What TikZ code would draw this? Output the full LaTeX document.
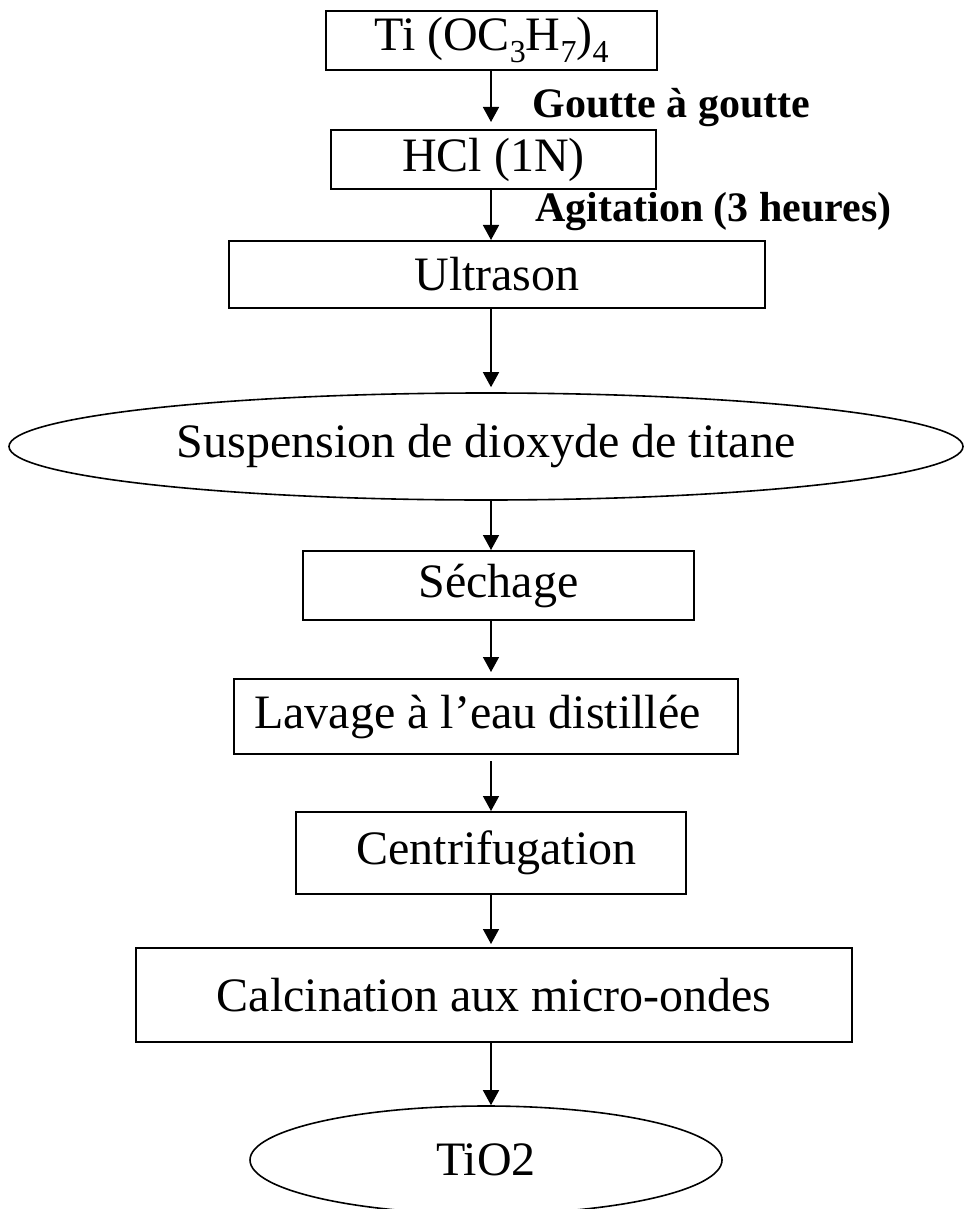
\documentclass[tikz,border=0pt]{standalone}
\usepackage{fontspec}
\setmainfont{Liberation Serif}
\usetikzlibrary{shapes.geometric,arrows.meta}
\newcommand{\chemsub}[1]{\raisebox{-6pt}{\fontsize{16}{16}\selectfont #1}}
\tikzset{
  stage/.style={draw,line width=1pt,inner sep=0pt,font=\fontsize{24}{28}\selectfont},
  oval/.style={stage,ellipse,line width=0.8pt},
  note/.style={inner sep=0pt,anchor=base west,font=\fontsize{21}{25}\selectfont\bfseries},
  arr/.style={line width=0.75pt,-{Triangle[length=7.5pt,width=8pt]}}
}

\begin{document}
\begin{tikzpicture}[x=0.5pt,y=-0.5pt]
        \useasboundingbox (0,0) rectangle (964,1209);
        \coordinate (axis) at (491,0);
        \node[stage,minimum width=165.5pt,minimum height=29.5pt] (ti) at (491.5,40.5) {Ti (OC\chemsub{3}H\chemsub{7})\chemsub{4}};
        \node[stage,minimum width=162.5pt,minimum height=29.5pt] (hcl) at (493.5,159.5) {HCl (1N)};
        \node[stage,minimum width=268pt,minimum height=33.5pt] (ultra) at (497,274.5) {Ultrason};
        \node[oval,minimum width=477pt,minimum height=53.5pt] (susp) at (486,446.5) {Suspension de dioxyde de titane};
        \node[stage,minimum width=195.5pt,minimum height=34.5pt] (sech) at (498.5,585.5) {Séchage};
        \node[stage,minimum width=252pt,minimum height=37.5pt] (lav) at (486,716.5) {Lavage à l’eau distillée\hspace*{8.5pt}};
        \node[stage,minimum width=195pt,minimum height=41pt] (centri) at (491,853) {\hspace*{5.5pt}Centrifugation};
        \node[stage,minimum width=358pt,minimum height=47pt] (calc) at (494,995) {Calcination aux micro-ondes};
        \node[oval,minimum width=236pt,minimum height=54pt] (tio) at (486,1160) {TiO2};
        \node[note] (goutte) at (532,118) {Goutte à goutte};
        \node[note] (agit) at (535,222) {Agitation (3 heures)};
        \draw[arr,shorten >=3.5pt] (axis |- ti.south) -- (axis |- hcl.north);
        \draw[arr] (axis |- hcl.south) -- (axis |- ultra.north);
        \draw[arr,shorten >=2.5pt] (axis |- ultra.south) -- (axis |- susp.north);
        \draw[arr] (axis |- susp.south) -- (axis |- sech.north);
        \draw[arr,shorten >=3pt] (axis |- sech.south) -- (axis |- lav.north);
        \draw[arr,shorten <=3pt] (axis |- lav.south) -- (axis |- centri.north);
        \draw[arr,shorten >=1.5pt] (axis |- centri.south) -- (axis |- calc.north);
        \draw[arr] (axis |- calc.south) -- (axis |- tio.north);
\end{tikzpicture}
\end{document}
